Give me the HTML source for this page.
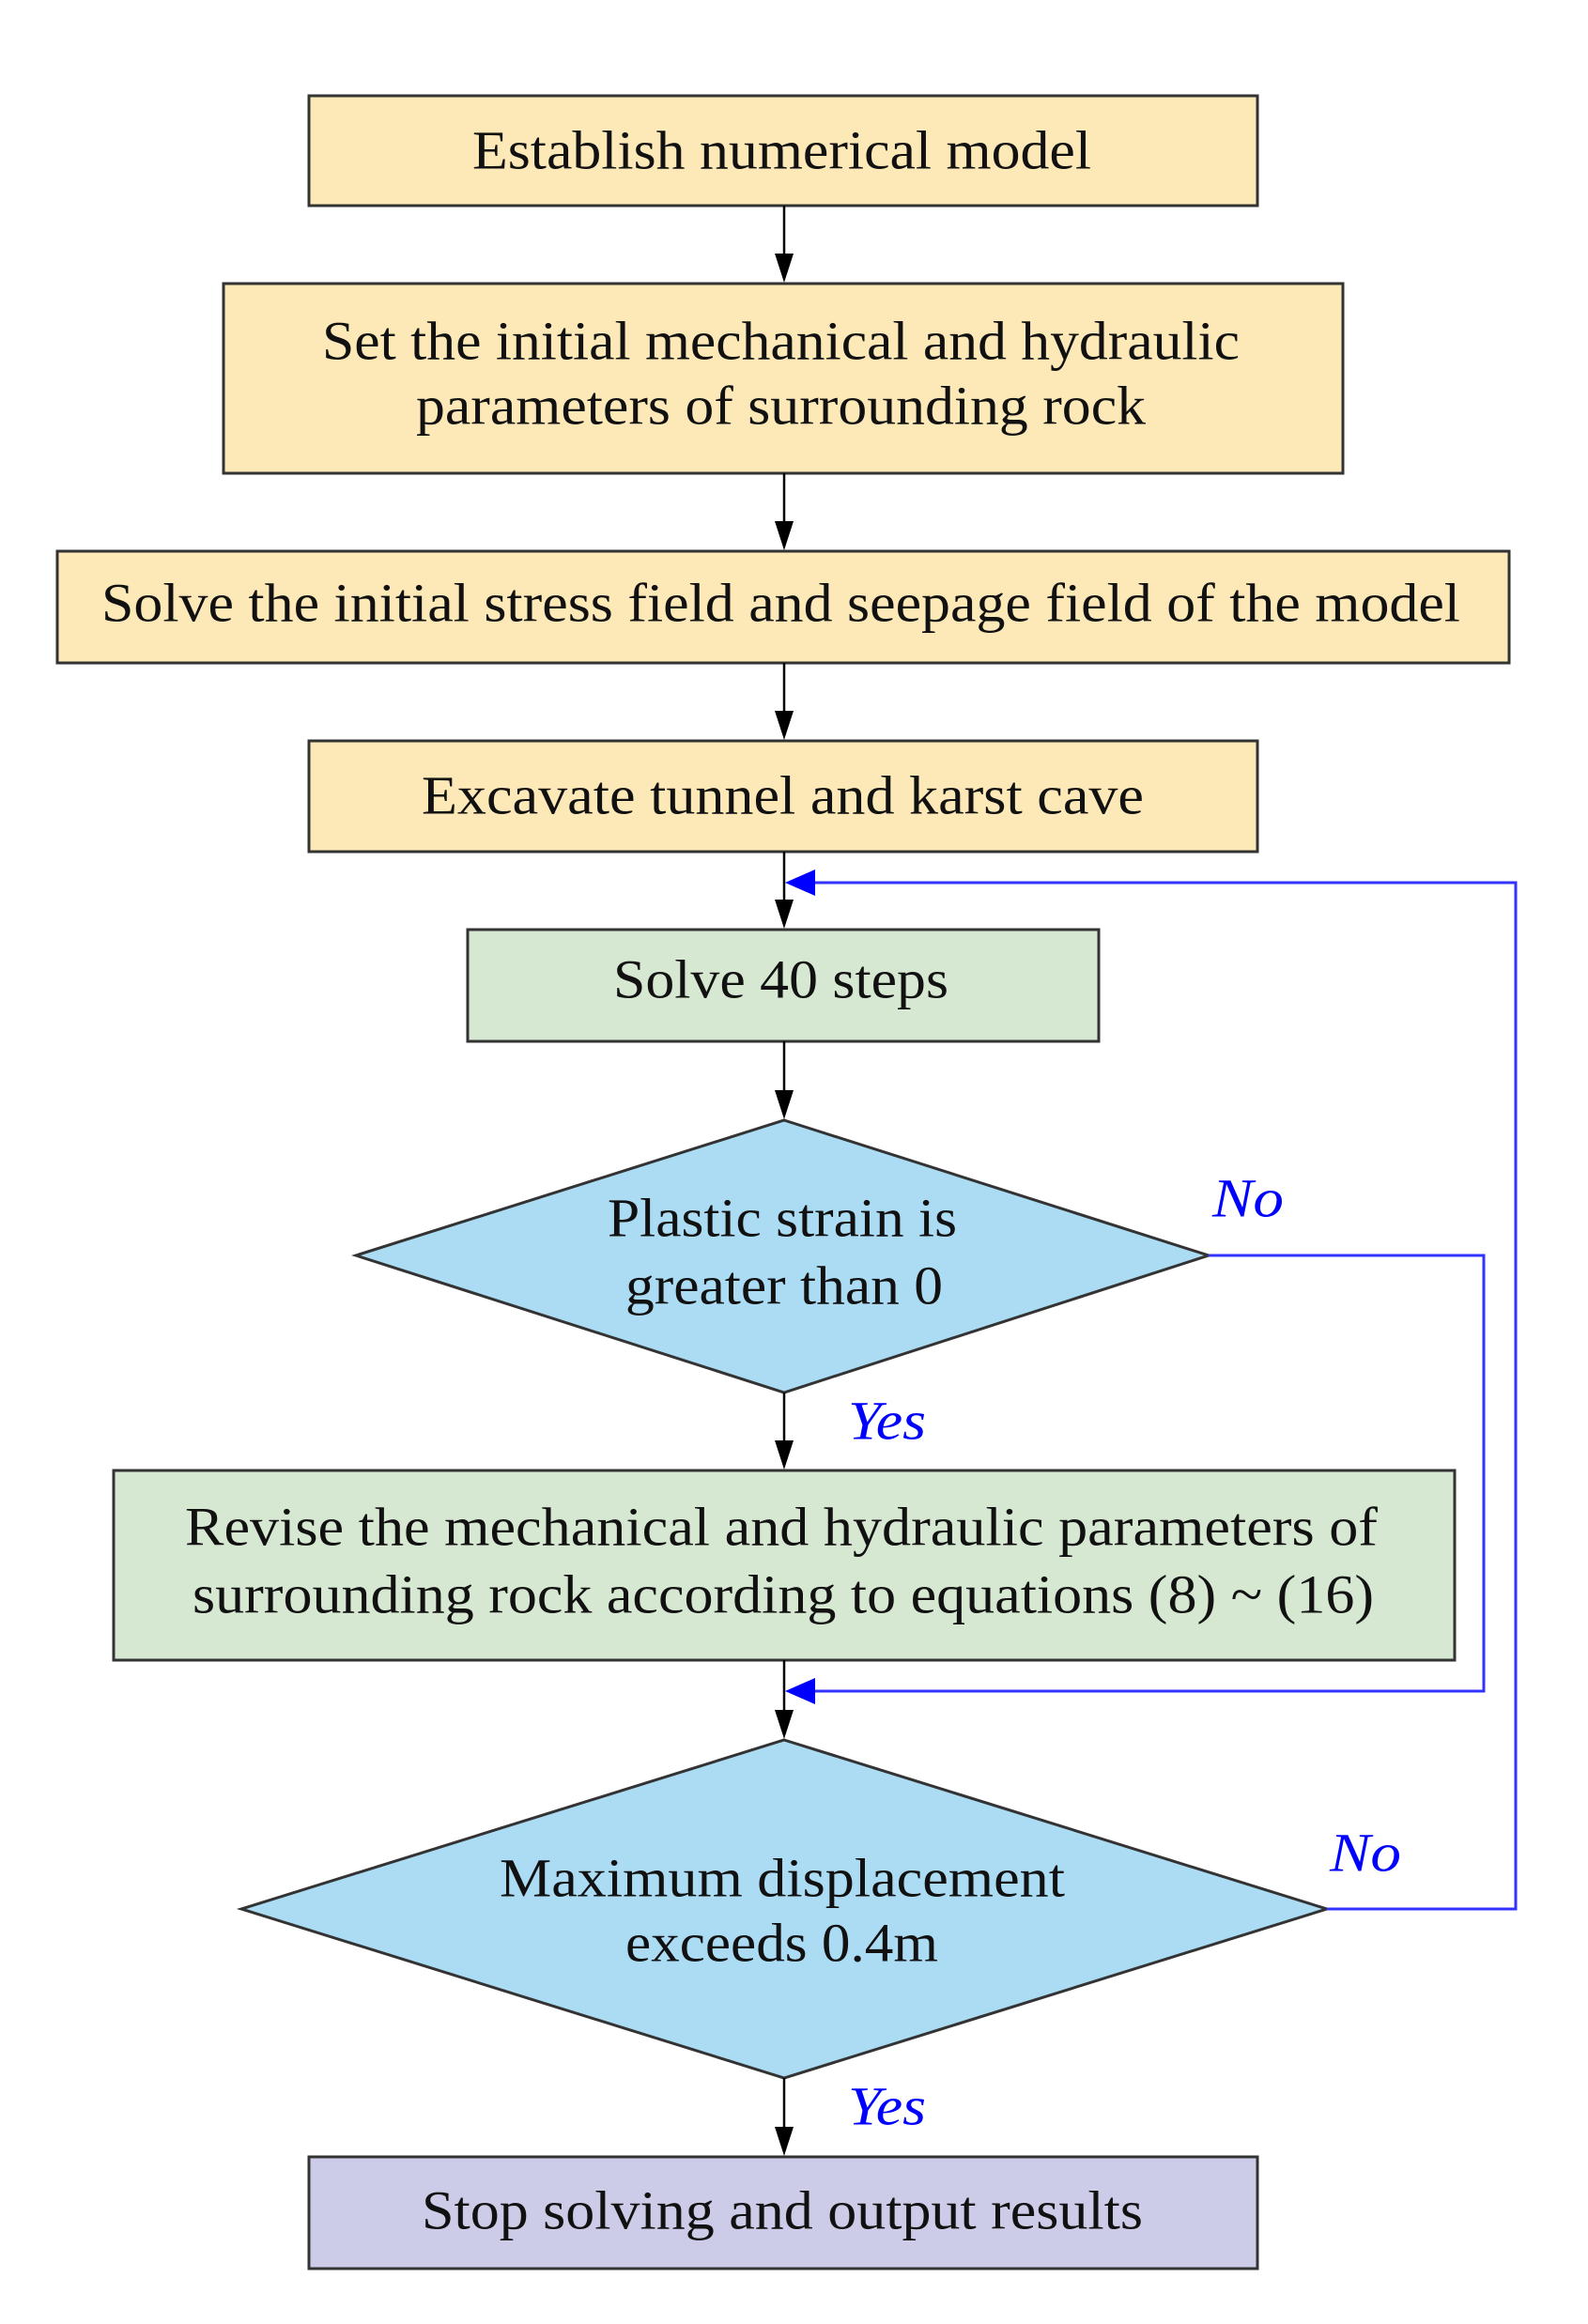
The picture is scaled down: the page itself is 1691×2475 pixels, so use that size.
<!DOCTYPE html>
<html><head><meta charset="utf-8"><style>html,body{margin:0;padding:0;background:#fff}svg{display:block}</style></head><body>
<svg width="1691" height="2475" viewBox="0 0 1691 2475" xmlns="http://www.w3.org/2000/svg" font-family="'Liberation Serif', serif">
<g stroke="#333" stroke-width="3">
<rect x="329" y="102" width="1010" height="117" fill="#fde8b8"/>
<rect x="238" y="302" width="1192" height="202" fill="#fde8b8"/>
<rect x="61" y="587" width="1546" height="119" fill="#fde8b8"/>
<rect x="329" y="789" width="1010" height="118" fill="#fde8b8"/>
<rect x="498" y="990" width="672" height="119" fill="#d6e8d2"/>
<polygon points="835,1193 1287,1337 835,1483 379,1337" fill="#acdcf4"/>
<rect x="121" y="1566" width="1428" height="202" fill="#d6e8d2"/>
<polygon points="835,1853 1413,2033 835,2213 257,2033" fill="#acdcf4"/>
<rect x="329" y="2297" width="1010" height="119" fill="#cccce8"/>
</g>
<g stroke="#000" stroke-width="2.5" fill="none">
<line x1="835" y1="219" x2="835" y2="280"/>
<line x1="835" y1="504" x2="835" y2="565"/>
<line x1="835" y1="706" x2="835" y2="767"/>
<line x1="835" y1="907" x2="835" y2="968"/>
<line x1="835" y1="1109" x2="835" y2="1171"/>
<line x1="835" y1="1483" x2="835" y2="1544"/>
<line x1="835" y1="1768" x2="835" y2="1831"/>
<line x1="835" y1="2213" x2="835" y2="2275"/>
</g>
<g fill="#000">
<path d="M825,270 L845,270 L835,301 z"/>
<path d="M825,555 L845,555 L835,586 z"/>
<path d="M825,757 L845,757 L835,788 z"/>
<path d="M825,958 L845,958 L835,989 z"/>
<path d="M825,1161 L845,1161 L835,1192 z"/>
<path d="M825,1534 L845,1534 L835,1565 z"/>
<path d="M825,1821 L845,1821 L835,1852 z"/>
<path d="M825,2265 L845,2265 L835,2296 z"/>
</g>
<g stroke="#3333ff" stroke-width="3" fill="none">
<polyline points="1287,1337 1580,1337 1580,1801 850,1801"/>
<polyline points="1413,2033 1614,2033 1614,940 850,940"/>
</g>
<path d="M836,940 L868,926 L868,954 z" fill="#0000ff"/>
<path d="M836,1801 L868,1787 L868,1815 z" fill="#0000ff"/>
<g font-size="58" fill="#111" dominant-baseline="central">
<text x="503" y="160" textLength="659" lengthAdjust="spacingAndGlyphs">Establish numerical model</text>
<text x="343" y="363" textLength="977" lengthAdjust="spacingAndGlyphs">Set the initial mechanical and hydraulic</text>
<text x="443" y="432" textLength="777" lengthAdjust="spacingAndGlyphs">parameters of surrounding rock</text>
<text x="108" y="642" textLength="1447" lengthAdjust="spacingAndGlyphs">Solve the initial stress field and seepage field of the model</text>
<text x="449" y="847" textLength="769" lengthAdjust="spacingAndGlyphs">Excavate tunnel and karst cave</text>
<text x="653" y="1043" textLength="357" lengthAdjust="spacingAndGlyphs">Solve 40 steps</text>
<text x="647" y="1297" textLength="372" lengthAdjust="spacingAndGlyphs">Plastic strain is</text>
<text x="666" y="1369" textLength="338" lengthAdjust="spacingAndGlyphs">greater than 0</text>
<text x="197" y="1626" textLength="1270" lengthAdjust="spacingAndGlyphs">Revise the mechanical and hydraulic parameters of</text>
<text x="205" y="1698" textLength="1258" lengthAdjust="spacingAndGlyphs">surrounding rock according to equations (8) ~ (16)</text>
<text x="532" y="2000" textLength="602" lengthAdjust="spacingAndGlyphs">Maximum displacement</text>
<text x="666" y="2069" textLength="333" lengthAdjust="spacingAndGlyphs">exceeds 0.4m</text>
<text x="449" y="2354" textLength="768" lengthAdjust="spacingAndGlyphs">Stop solving and output results</text>
</g>
<g font-size="58" fill="#0000ff" font-style="italic" dominant-baseline="central">
<text x="1291" y="1276" textLength="76" lengthAdjust="spacingAndGlyphs">No</text>
<text x="903" y="1513" textLength="83" lengthAdjust="spacingAndGlyphs">Yes</text>
<text x="1416" y="1973" textLength="76" lengthAdjust="spacingAndGlyphs">No</text>
<text x="903" y="2243" textLength="83" lengthAdjust="spacingAndGlyphs">Yes</text>
</g>
</svg>
</body></html>
